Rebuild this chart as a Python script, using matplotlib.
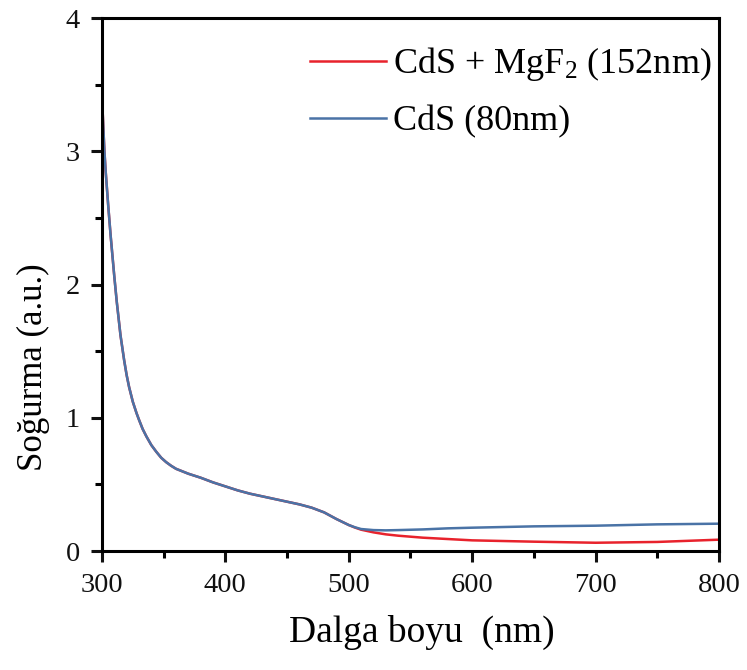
import matplotlib
matplotlib.use("Agg")
import matplotlib.pyplot as plt
from matplotlib.ticker import MultipleLocator

plt.rcParams['font.family'] = ['Liberation Serif', 'DejaVu Serif']
plt.rcParams['mathtext.fontset'] = 'custom'
plt.rcParams['mathtext.rm'] = 'Liberation Serif'
plt.rcParams['mathtext.it'] = 'Liberation Serif:italic'

wavelength = [300, 301, 302, 303, 305, 307, 310, 312, 315, 318, 320, 322, 325, 328, 330,
              333, 336, 340, 344, 348, 352, 356, 360, 370, 380, 390, 400, 410, 420, 430,
              440, 450, 460, 470, 480, 490, 500, 505, 510, 520, 530, 540, 560, 580, 600,
              650, 700, 750, 800]
cds = [3.42, 3.20, 3.00, 2.85, 2.60, 2.37, 2.06, 1.87, 1.62, 1.43, 1.32, 1.23, 1.12, 1.035, 0.985,
       0.915, 0.86, 0.795, 0.745, 0.70, 0.667, 0.64, 0.617, 0.58, 0.55, 0.515, 0.485, 0.455, 0.43, 0.41,
       0.39, 0.37, 0.35, 0.325, 0.29, 0.24, 0.195, 0.178, 0.165, 0.157, 0.155, 0.157, 0.162, 0.17, 0.175,
       0.185, 0.19, 0.20, 0.205]
cds_mgf2 = [3.42, 3.20, 3.00, 2.85, 2.60, 2.37, 2.06, 1.87, 1.62, 1.43, 1.32, 1.23, 1.12, 1.035, 0.985,
            0.915, 0.86, 0.795, 0.745, 0.70, 0.667, 0.64, 0.617, 0.58, 0.55, 0.515, 0.485, 0.455, 0.43, 0.41,
            0.39, 0.37, 0.35, 0.325, 0.29, 0.24, 0.195, 0.176, 0.16, 0.14, 0.125, 0.115, 0.10, 0.09, 0.08,
            0.07, 0.062, 0.068, 0.085]

label_red = r'CdS + MgF$_2$ (152nm)'
label_blue = 'CdS (80nm)'

fig = plt.figure(figsize=(7.47, 6.7), dpi=100)
ax = fig.add_axes([0.1365, 0.1776, 0.826, 0.7955])

ax.plot(wavelength, cds_mgf2, color='#e8222c', lw=1.8, label=label_red)
ax.plot(wavelength, cds, color='#4a73a6', lw=1.8, label=label_blue)

ax.set_xlim(300, 800)
ax.set_ylim(0, 4)
ax.xaxis.set_major_locator(MultipleLocator(100))
ax.xaxis.set_minor_locator(MultipleLocator(50))
ax.yaxis.set_major_locator(MultipleLocator(1))
ax.yaxis.set_minor_locator(MultipleLocator(0.5))

for s in ax.spines.values():
    s.set_linewidth(2.2)
ax.tick_params(which='major', direction='out', length=8, width=2.2, labelsize=20.5,
               pad=8, colors='#111111', top=False, right=False)
ax.tick_params(which='minor', direction='out', length=5, width=2.2, top=False, right=False)

ax.set_xlabel('Dalga boyu  (nm)', fontsize=27)
ax.set_ylabel('Soğurma (a.u.)', fontsize=25)
ax.xaxis.set_label_coords(0.519, -0.12)
ax.yaxis.set_label_coords(-0.085, 0.345)

ax.legend(loc='upper left', bbox_to_anchor=(0.337, 0.949), frameon=False, fontsize=26,
          handlelength=2.1, handletextpad=0.2, labelspacing=0.61, borderpad=0,
          borderaxespad=0)

fig.savefig('out.png', dpi=100)
